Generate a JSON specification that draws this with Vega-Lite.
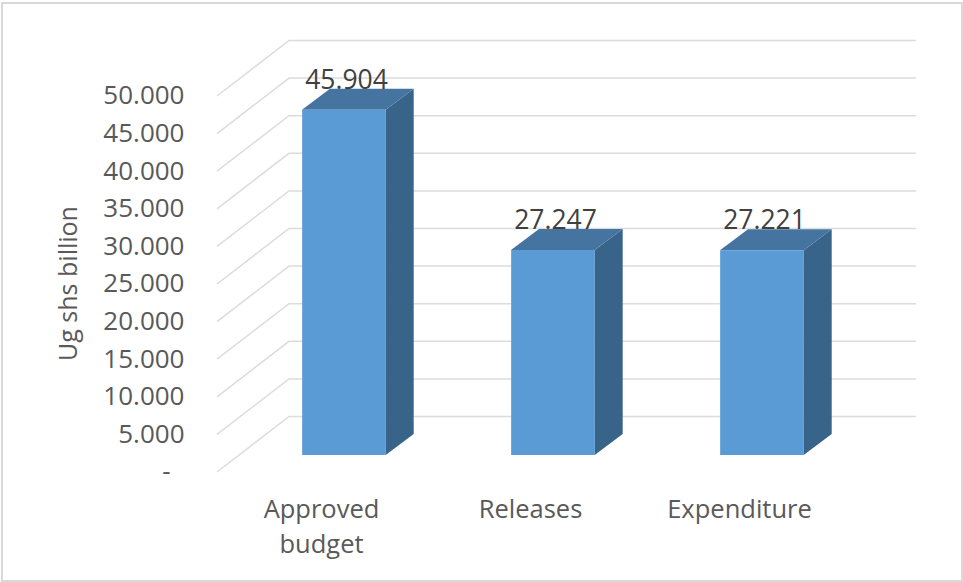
{
  "$schema": "https://vega.github.io/schema/vega-lite/v6.json",
  "width": 960,
  "height": 578,
  "autosize": {"type": "none"},
  "padding": {"left": 2, "top": 3, "right": 1, "bottom": 1},
  "background": "white",
  "view": {"stroke": "#d9d9d9", "strokeWidth": 2, "fill": "white"},
  "datasets": {
    "bars": [
      {"category": "Approved budget", "value": 45904},
      {"category": "Releases", "value": 27247},
      {"category": "Expenditure", "value": 27221}
    ],
    "ticks": [
      {"tick": 0}, {"tick": 5000}, {"tick": 10000}, {"tick": 15000}, {"tick": 20000}, {"tick": 25000},
      {"tick": 30000}, {"tick": 35000}, {"tick": 40000}, {"tick": 45000}, {"tick": 50000}
    ]
  },
  "layer": [
    {
      "data": {"name": "ticks"},
      "transform": [
        {"calculate": "[0,1,2]", "as": "k"},
        {"flatten": ["k"]},
        {"calculate": "[217,289,916][datum.k]", "as": "gx"},
        {"calculate": "datum.tick + (datum.k > 0 ? 7380 : 0)", "as": "gy"}
      ],
      "mark": {"type": "line", "color": "#dcdcdc", "strokeWidth": 1.5},
      "encoding": {
        "x": {"field": "gx", "type": "quantitative", "scale": {"domain": [2, 962]}, "axis": null},
        "y": {
          "field": "gy", "type": "quantitative",
          "scale": {"domain": [-14495, 62367], "nice": false, "zero": false},
          "axis": {
            "values": [0, 5000, 10000, 15000, 20000, 25000, 30000, 35000, 40000, 45000, 50000],
            "labelExpr": "datum.value === 0 ? '-' : replace(format(datum.value, ','), ',', '.')",
            "title": "Ug shs billion",
            "titleFont": "Open Sans", "titleFontSize": 25, "titleFontWeight": "normal", "titleColor": "#595959",
            "titleX": -103, "titleY": 280, "titleAngle": -90,
            "labelFont": "Open Sans", "labelFontSize": 26, "labelColor": "#595959",
            "labelPadding": {"condition": {"test": "datum.value === 0", "value": 14}, "value": 0},
            "offset": -182, "grid": false, "domain": false, "ticks": false
          }
        },
        "detail": {"field": "tick"}
      }
    },
    {
      "data": {"name": "bars"},
      "transform": [
        {"window": [{"op": "row_number", "as": "slot"}]},
        {"calculate": "[0,1]", "as": "k"},
        {"flatten": ["k"]},
        {"calculate": "302 + (datum.slot - 1) * 209 + 83.7 + datum.k * 28", "as": "fx"},
        {"calculate": "datum.value + 2261 + datum.k * 2793", "as": "fy"},
        {"calculate": "2261 + datum.k * 2793", "as": "fy2"}
      ],
      "mark": {"type": "area", "color": "#38648A", "orient": "vertical"},
      "encoding": {
        "x": {"field": "fx", "type": "quantitative", "scale": {"domain": [2, 962]}, "axis": null},
        "y": {"field": "fy", "type": "quantitative"},
        "y2": {"field": "fy2"},
        "detail": {"field": "category"}
      }
    },
    {
      "data": {"name": "bars"},
      "transform": [
        {"window": [{"op": "row_number", "as": "slot"}]},
        {"calculate": "[0,1,2,3]", "as": "k"},
        {"flatten": ["k"]},
        {"calculate": "302 + (datum.slot - 1) * 209 + [0, 28, 83.7, 111.7][datum.k]", "as": "fx"},
        {"calculate": "datum.value + 2261 + (datum.k > 0 ? 2793 : 0)", "as": "fy"},
        {"calculate": "datum.value + 2261 + (datum.k > 2 ? 2793 : 0)", "as": "fy2"}
      ],
      "mark": {"type": "area", "color": "#44749F", "orient": "vertical"},
      "encoding": {
        "x": {"field": "fx", "type": "quantitative", "scale": {"domain": [2, 962]}, "axis": null},
        "y": {"field": "fy", "type": "quantitative"},
        "y2": {"field": "fy2"},
        "detail": {"field": "category"}
      }
    },
    {
      "data": {"name": "bars"},
      "mark": {"type": "bar", "color": "#5B9BD5", "width": 83.7, "xOffset": 22.5, "yOffset": -17},
      "encoding": {
        "x": {
          "field": "category", "type": "nominal", "sort": null,
          "scale": {"range": [215, 842], "paddingInner": 0, "paddingOuter": 0},
          "axis": {
            "title": null, "labelAngle": 0,
            "labelExpr": "split(datum.label, ' ')",
            "labelFont": "Open Sans", "labelFontSize": 25.5, "labelColor": "#595959", "labelLineHeight": 35,
            "labelPadding": 0, "labelBaseline": "top", "offset": -84, "labelLimit": 300,
            "domain": false, "ticks": false, "grid": false
          }
        },
        "y": {"field": "value", "type": "quantitative"}
      }
    },
    {
      "data": {"name": "bars"},
      "transform": [
        {"calculate": "replace(format(datum.value, ','), ',', '.')", "as": "lab"}
      ],
      "mark": {"type": "text", "font": "Open Sans", "fontSize": 26.5, "color": "#404040", "dx": 25, "dy": -46, "baseline": "middle", "align": "center"},
      "encoding": {
        "x": {"field": "category", "type": "nominal", "sort": null, "scale": {"range": [215, 842], "paddingInner": 0, "paddingOuter": 0}, "axis": null},
        "y": {"field": "value", "type": "quantitative"},
        "text": {"field": "lab"}
      }
    }
  ],
  "resolve": {"scale": {"x": "independent"}}
}
